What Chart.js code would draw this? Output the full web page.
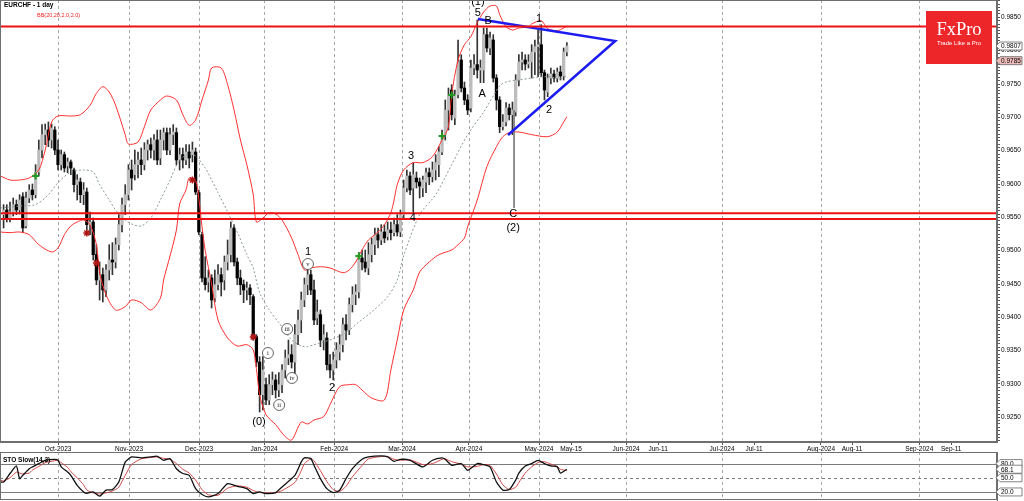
<!DOCTYPE html>
<html>
<head>
<meta charset="utf-8">
<script src="https://cdn.jsdelivr.net/npm/chart.js@4.4.1/dist/chart.umd.min.js"></script>
<style>
  html, body { margin: 0; padding: 0; background: #fff; }
  #wrap { position: relative; width: 1024px; height: 501px; overflow: hidden; }
  #main { position: absolute; left: 0; top: 0; }
  #sto { position: absolute; left: 0; top: 452px; }
</style>
</head>
<body>
<div id="wrap">
  <canvas id="main" width="1024" height="452"></canvas>
  <canvas id="sto" width="1024" height="49"></canvas>
</div>
<script>
// EURCHF daily bars, one per trading day (index 0 = early Sep 2023)
const openP = [0.9554,0.9561,0.9549,0.9558,0.9569,0.9561,0.9581,0.9537,0.9579,0.9591,
  0.9584,0.9618,0.9651,0.9674,0.9681,0.9666,0.9681,0.9651,0.9629,0.9644,
  0.9627,0.9633,0.9621,0.9599,0.9603,0.9584,0.9588,0.9539,0.9543,0.9494,
  0.9456,0.9464,0.9441,0.9471,0.9486,0.9483,0.9509,0.9539,0.9569,0.9584,
  0.9621,0.9614,0.9629,0.9636,0.9629,0.9651,0.9659,0.9651,0.9666,0.9639,
  0.9666,0.9677,0.9651,0.9674,0.9677,0.9636,0.9644,0.9636,0.9648,0.9644,
  0.9648,0.9587,0.9524,0.9459,0.9453,0.9459,0.9429,0.9449,0.9464,0.9456,
  0.9483,0.9494,0.9534,0.9483,0.9459,0.9449,0.9441,0.9444,0.9431,0.9371,
  0.9333,0.9284,0.9299,0.9276,0.9299,0.9306,0.9291,0.9299,0.9321,0.9339,
  0.9344,0.9333,0.9374,0.9396,0.9426,0.9449,0.9464,0.9441,0.9399,0.9404,
  0.9366,0.9369,0.9329,0.9321,0.9336,0.9348,0.9359,0.9389,0.9381,0.9419,
  0.9434,0.9438,0.9489,0.9483,0.9474,0.9494,0.9509,0.9524,0.9516,0.9528,
  0.9521,0.9531,0.9527,0.9539,0.9528,0.9554,0.9594,0.9612,0.9594,0.9609,
  0.9603,0.9594,0.9603,0.9617,0.9611,0.9621,0.9629,0.9648,0.9674,0.9711,
  0.9741,0.9699,0.9734,0.9786,0.9744,0.9726,0.9714,0.9774,0.9779,0.9771,
  0.9771,0.9824,0.9804,0.9816,0.9759,0.9726,0.9686,0.9693,0.9714,0.9704,
  0.9708,0.9756,0.9783,0.9786,0.9780,0.9783,0.9798,0.9806,0.9809,0.9767,
  0.9738,0.9759,0.9765,0.9759,0.9768,0.9762,0.9798];
const highP = [0.9569,0.9569,0.9573,0.9579,0.9576,0.9584,0.9587,0.9588,0.9599,0.9600,
  0.9629,0.9666,0.9689,0.9690,0.9693,0.9690,0.9686,0.9666,0.9651,0.9648,
  0.9639,0.9636,0.9624,0.9614,0.9609,0.9602,0.9594,0.9558,0.9549,0.9509,
  0.9483,0.9474,0.9479,0.9509,0.9512,0.9519,0.9554,0.9579,0.9599,0.9629,
  0.9636,0.9651,0.9648,0.9654,0.9662,0.9666,0.9669,0.9674,0.9681,0.9681,
  0.9684,0.9684,0.9684,0.9689,0.9684,0.9654,0.9654,0.9659,0.9659,0.9663,
  0.9654,0.9591,0.9528,0.9491,0.9471,0.9464,0.9471,0.9479,0.9474,0.9492,
  0.9516,0.9543,0.9539,0.9489,0.9471,0.9456,0.9453,0.9449,0.9434,0.9374,
  0.9341,0.9341,0.9309,0.9314,0.9318,0.9314,0.9317,0.9329,0.9351,0.9366,
  0.9359,0.9389,0.9411,0.9438,0.9459,0.9474,0.9471,0.9456,0.9426,0.9411,
  0.9389,0.9377,0.9344,0.9348,0.9362,0.9374,0.9399,0.9404,0.9429,0.9446,
  0.9449,0.9497,0.9501,0.9501,0.9512,0.9519,0.9534,0.9534,0.9539,0.9539,
  0.9543,0.9543,0.9549,0.9554,0.9561,0.9606,0.9621,0.9618,0.9632,0.9618,
  0.9609,0.9612,0.9624,0.9624,0.9633,0.9644,0.9656,0.9681,0.9726,0.9744,
  0.9749,0.9741,0.9816,0.9794,0.9753,0.9734,0.9786,0.9794,0.9846,0.9786,
  0.9834,0.9834,0.9828,0.9824,0.9764,0.9731,0.9704,0.9722,0.9720,0.9723,
  0.9764,0.9794,0.9798,0.9794,0.9794,0.9809,0.9816,0.9831,0.9839,0.9771,
  0.9765,0.9774,0.9771,0.9774,0.9777,0.9804,0.9812];
const lowP = [0.9534,0.9543,0.9543,0.9552,0.9554,0.9555,0.9527,0.9534,0.9572,0.9576,
  0.9579,0.9612,0.9639,0.9659,0.9656,0.9654,0.9644,0.9621,0.9621,0.9618,
  0.9617,0.9614,0.9588,0.9576,0.9572,0.9569,0.9531,0.9524,0.9486,0.9449,
  0.9426,0.9423,0.9431,0.9456,0.9464,0.9474,0.9501,0.9528,0.9554,0.9576,
  0.9591,0.9606,0.9609,0.9614,0.9621,0.9636,0.9639,0.9636,0.9629,0.9629,
  0.9651,0.9644,0.9644,0.9659,0.9629,0.9621,0.9624,0.9629,0.9624,0.9633,
  0.9584,0.9524,0.9453,0.9441,0.9438,0.9414,0.9423,0.9441,0.9432,0.9441,
  0.9471,0.9483,0.9477,0.9449,0.9434,0.9422,0.9426,0.9419,0.9366,0.9326,
  0.9258,0.9261,0.9269,0.9269,0.9284,0.9279,0.9281,0.9287,0.9309,0.9329,
  0.9324,0.9314,0.9359,0.9377,0.9416,0.9434,0.9434,0.9389,0.9389,0.9356,
  0.9351,0.9321,0.9309,0.9306,0.9324,0.9336,0.9348,0.9366,0.9374,0.9408,
  0.9419,0.9429,0.9471,0.9468,0.9464,0.9483,0.9494,0.9504,0.9509,0.9512,
  0.9516,0.9516,0.9522,0.9522,0.9521,0.9549,0.9588,0.9584,0.9557,0.9594,
  0.9579,0.9581,0.9587,0.9599,0.9603,0.9606,0.9611,0.9644,0.9666,0.9681,
  0.9696,0.9689,0.9729,0.9738,0.9719,0.9704,0.9708,0.9764,0.9759,0.9752,
  0.9752,0.9798,0.9794,0.9753,0.9711,0.9677,0.9681,0.9687,0.9696,0.9674,
  0.9702,0.9747,0.9771,0.9771,0.9774,0.9759,0.9764,0.9761,0.9761,0.9726,
  0.9731,0.9750,0.9753,0.9753,0.9756,0.9756,0.9792];
const closeP = [0.9561,0.9549,0.9558,0.9569,0.9561,0.9576,0.9534,0.9579,0.9591,0.9584,
  0.9618,0.9651,0.9674,0.9681,0.9666,0.9684,0.9651,0.9629,0.9644,0.9624,
  0.9633,0.9624,0.9599,0.9606,0.9584,0.9591,0.9539,0.9543,0.9494,0.9456,
  0.9464,0.9441,0.9471,0.9486,0.9483,0.9509,0.9539,0.9569,0.9584,0.9621,
  0.9609,0.9629,0.9636,0.9629,0.9651,0.9659,0.9651,0.9666,0.9636,0.9666,
  0.9677,0.9651,0.9674,0.9678,0.9636,0.9644,0.9636,0.9648,0.9639,0.9651,
  0.9588,0.9528,0.9459,0.9449,0.9459,0.9426,0.9449,0.9464,0.9453,0.9483,
  0.9494,0.9534,0.9483,0.9459,0.9449,0.9441,0.9444,0.9434,0.9371,0.9333,
  0.9284,0.9321,0.9276,0.9299,0.9306,0.9291,0.9299,0.9321,0.9339,0.9344,
  0.9333,0.9374,0.9396,0.9426,0.9449,0.9464,0.9441,0.9396,0.9408,0.9366,
  0.9374,0.9329,0.9321,0.9336,0.9351,0.9359,0.9389,0.9381,0.9419,0.9434,
  0.9438,0.9489,0.9483,0.9474,0.9494,0.9509,0.9524,0.9516,0.9528,0.9519,
  0.9531,0.9527,0.9539,0.9528,0.9554,0.9594,0.9612,0.9591,0.9614,0.9603,
  0.9597,0.9606,0.9617,0.9611,0.9621,0.9632,0.9648,0.9672,0.9711,0.9734,
  0.9704,0.9734,0.9783,0.9744,0.9726,0.9711,0.9774,0.9779,0.9771,0.9774,
  0.9824,0.9804,0.9819,0.9759,0.9726,0.9686,0.9693,0.9714,0.9704,0.9711,
  0.9756,0.9783,0.9786,0.9780,0.9783,0.9798,0.9806,0.9809,0.9767,0.9741,
  0.9759,0.9765,0.9759,0.9768,0.9762,0.9798,0.9807];

// Bollinger bands (20, 2.0): [bar index, price]
const bbUpper = [[-1,0.9612],[2,0.9606],[5,0.9606],[8,0.9609],[11,0.9621],[13,0.9651],[15,0.9693],[17,0.9702],[21,0.9702],[24,0.9704],[27,0.9718],[29,0.9736],[31,0.9746],[33,0.9738],[35,0.9718],[38,0.9674],[39,0.9660],[42,0.9663],[44,0.9686],[46,0.9711],[49,0.9726],[51,0.9732],[54,0.9726],[56,0.9704],[58,0.9688],[60,0.9696],[62,0.9726],[64,0.9756],[65,0.9774],[68,0.9774],[70,0.9749],[72,0.9711],[74,0.9666],[76,0.9629],[78,0.9584],[79,0.9543],[81,0.9549],[83,0.9557],[85,0.9555],[87,0.9546],[90,0.9519],[92,0.9494],[94,0.9471],[96,0.9474],[99,0.9476],[102,0.9474],[106,0.9467],[108,0.9471],[110,0.9483],[112,0.9501],[114,0.9516],[117,0.9528],[119,0.9539],[121,0.9557],[122,0.9576],[123,0.9599],[125,0.9621],[128,0.9632],[131,0.9632],[134,0.9641],[137,0.9666],[139,0.9686],[140,0.9734],[142,0.9786],[144,0.9809],[146,0.9821],[148,0.9842],[150,0.9858],[152,0.9867],[154,0.9867],[155,0.9854],[157,0.9836],[159,0.9831],[161,0.9834],[164,0.9836],[165,0.9840],[168,0.9845],[170,0.9833],[173,0.9830],[175,0.9834],[176,0.9837]];
const bbMiddle = [[-1,0.9564],[5,0.9567],[10,0.9569],[14,0.9584],[17,0.9602],[21,0.9618],[25,0.9621],[28,0.9618],[30,0.9599],[33,0.9576],[35,0.9561],[38,0.9546],[40,0.9540],[43,0.9537],[46,0.9549],[49,0.9576],[52,0.9606],[55,0.9636],[58,0.9645],[60,0.9642],[63,0.9624],[65,0.9606],[67,0.9587],[70,0.9558],[73,0.9528],[76,0.9494],[78,0.9474],[80,0.9437],[83,0.9411],[86,0.9392],[90,0.9366],[93,0.9357],[95,0.9356],[97,0.9359],[100,0.9363],[103,0.9368],[107,0.9377],[111,0.9393],[115,0.9408],[120,0.9431],[123,0.9456],[125,0.9492],[130,0.9554],[135,0.9584],[140,0.9629],[145,0.9674],[150,0.9708],[155,0.9747],[157,0.9753],[161,0.9756],[165,0.9759],[170,0.9761],[174,0.9758],[176,0.9762]];
const bbLower = [[-1,0.9528],[2,0.9527],[5,0.9528],[8,0.9524],[11,0.9509],[15,0.9498],[17,0.9504],[19,0.9524],[21,0.9537],[23,0.9543],[25,0.9546],[27,0.9539],[29,0.9509],[30,0.9467],[32,0.9434],[35,0.9411],[38,0.9416],[40,0.9426],[43,0.9422],[46,0.9411],[49,0.9429],[50,0.9456],[52,0.9492],[54,0.9531],[55,0.9570],[57,0.9591],[58,0.9609],[60,0.9605],[61,0.9578],[62,0.9536],[63,0.9500],[65,0.9450],[67,0.9396],[70,0.9369],[73,0.9357],[76,0.9359],[78,0.9351],[79,0.9323],[80,0.9284],[82,0.9254],[85,0.9239],[88,0.9221],[90,0.9216],[93,0.9243],[95,0.9240],[97,0.9246],[100,0.9251],[102,0.9269],[105,0.9296],[108,0.9299],[110,0.9299],[112,0.9291],[115,0.9279],[119,0.9276],[121,0.9321],[123,0.9366],[125,0.9411],[128,0.9441],[130,0.9468],[133,0.9483],[136,0.9494],[140,0.9501],[142,0.9509],[144,0.9519],[145,0.9536],[148,0.9576],[151,0.9626],[154,0.9656],[156,0.9671],[158,0.9677],[161,0.9678],[165,0.9674],[170,0.9671],[173,0.9678],[175,0.9693],[176,0.9701]];

// Stochastic slow (14,3): [bar index, value]
const stoMain = [[-1,41],[0,41],[2,59],[4,75],[5,48],[6,55],[8,69],[9,73],[11,80],[13,87],[16,89],[17,87],[18,73],[20,62],[21,55],[23,34],[25,20],[26,17],[28,20],[30,11],[32,24],[34,25],[36,41],[38,83],[40,94],[43,92],[46,94],[48,95.5],[50,87],[52,90.5],[54,69],[56,59],[58,55],[60,27],[62,14.5],[64,9.5],[67,16.6],[70,37.7],[73,32],[76,27],[78,16.6],[80,20],[82,16.6],[85,18.7],[87,30.7],[91,55],[93,83.5],[94,92],[96,90.5],[97,76.4],[99,48.3],[101,27],[103,18.7],[105,23.6],[107,48.3],[109,69.4],[112,89],[114,94],[118,96.2],[120,94],[122,84.9],[124,89],[127,87],[131,73],[134,87],[137,92],[138,89],[140,76.4],[143,80],[145,65.9],[148,80],[150,77.8],[152,73],[154,41],[156,24],[158,25],[160,45],[161,60],[163,75],[165,80],[167,87],[169,80],[171,75],[173,73],[174,60],[176,68.1]];
const stoSignal = [[-1,45],[0,43],[2,50],[4,62],[5,60],[6,58],[8,60],[9,66],[11,74],[13,82],[16,86],[17,87],[18,82],[20,72],[21,63],[23,50],[25,35],[26,24],[28,18],[30,16],[32,18],[34,22],[36,30],[38,55],[40,78],[43,90],[46,93],[48,94],[50,91],[52,89],[54,80],[56,68],[58,60],[60,45],[62,25],[64,14],[67,13],[70,28],[73,33],[76,30],[78,23],[80,19],[82,18],[85,18],[87,23],[91,40],[93,65],[94,80],[96,90],[97,86],[99,65],[101,42],[103,25],[105,21],[107,32],[109,52],[112,76],[114,90],[118,95],[120,95],[122,89],[124,87],[127,88],[131,78],[134,80],[137,89],[138,90],[140,84],[143,79],[145,73],[148,74],[150,78],[152,76],[154,58],[156,35],[158,25],[160,30],[161,40],[163,60],[165,73],[167,82],[169,84],[171,79],[173,74],[174,68],[176,65]];
const stoLevels = [80, 50, 20];
const stoLast = 68.1;

// drawn objects
const hLevels = [0.98363, 0.9556, 0.95475];
const triangle = [[148.2,0.98475],[191.1,0.98145],[157.6,0.96735]];
const cLine = [[159.5,0.9711],[159.5,0.9564]];
const buyMarks = [[10,0.9612],[111,0.9492],[137,0.9672],[140,0.97335]];
const sellMarks = [[26,0.95265],[29,0.94815],[59,0.9606],[78,0.93705]];
const waveLabels = [['(1)',148.2,0.9873],['5',148.2,0.98565],['B',151.4,0.98445],['1',167.3,0.98475],
  ['A',149.5,0.9735],['2',170.4,0.9711],['C',159.2,0.9555],['(2)',159.2,0.9534],
  ['3',127.3,0.9642],['4',127.9,0.9549],['1',95.1,0.9498],['2',102.6,0.9294],['(0)',79.8,0.9243]];
const romanLabels = [['i',82.6,0.93465],['ii',86.1,0.92685],['iii',88.6,0.93825],['iv',90.1,0.9309],['v',95.1,0.9480]];

// axes
const xTickIdx = [17,39.2,61.1,81.4,103.3,124.5,145.4,167.3,177.3,194.5,204.5,224.5,234.5,255.4,265.1,286.1,296.1];
const xTickLabels = ['Oct-2023','Nov-2023','Dec-2023','Jan-2024','Feb-2024','Mar-2024','Apr-2024','May-2024','May-15',
  'Jun-2024','Jun-11','Jul-2024','Jul-11','Aug-2024','Aug-11','Sep-2024','Sep-11'];
const yTickValues = [0.9250,0.9300,0.9350,0.9400,0.9450,0.9500,0.9550,0.9600,0.9650,0.9700,0.9750,0.9800,0.9850];
const lastPrice = 0.9807;
const bidPrice = 0.9785;

const xMin = -1.125, xMax = 310.4;
const FONT = '"Liberation Sans", Arial, sans-serif';

const pts = list => list.map(p => ({ x: p[0], y: p[1] }));

// vertical dashed lines at month starts
const monthLines = {
  id: 'monthLines',
  beforeDatasetsDraw(chart) {
    const { ctx, chartArea: a, scales: { x } } = chart;
    ctx.save();
    ctx.strokeStyle = '#a8a8a8';
    ctx.lineWidth = 1;
    ctx.setLineDash([3, 3]);
    xTickIdx.forEach((v, i) => {
      if (!xTickLabels[i].includes('20')) return;
      const px = Math.round(x.getPixelForValue(v)) + 0.5;
      ctx.beginPath();
      ctx.moveTo(px, a.top);
      ctx.lineTo(px, a.bottom);
      ctx.stroke();
    });
    ctx.restore();
  }
};

function frame(chart) {
  const { ctx, chartArea: a } = chart;
  ctx.save();
  ctx.strokeStyle = '#6e6e6e';
  ctx.lineWidth = 1;
  ctx.strokeRect(a.left + 0.5, a.top + 0.5, a.right - a.left - 1, a.bottom - a.top - 1);
  ctx.restore();
}

function tag(ctx, text, yPix, fill) {
  const x0 = 996, w = 26, h = 8;
  ctx.beginPath();
  ctx.moveTo(x0, yPix);
  ctx.lineTo(x0 + 4, yPix - h / 2);
  ctx.lineTo(x0 + w, yPix - h / 2);
  ctx.lineTo(x0 + w, yPix + h / 2);
  ctx.lineTo(x0 + 4, yPix + h / 2);
  ctx.closePath();
  ctx.fillStyle = fill;
  ctx.fill();
  ctx.strokeStyle = '#666';
  ctx.lineWidth = 0.8;
  ctx.stroke();
  ctx.fillStyle = '#000';
  ctx.font = '6.5px ' + FONT;
  ctx.textAlign = 'left';
  ctx.textBaseline = 'middle';
  ctx.fillText(text, x0 + 5, yPix + 0.5);
}

const annotations = {
  id: 'annotations',
  afterDatasetsDraw(chart) {
    const { ctx, scales: { x, y } } = chart;
    ctx.save();
    ctx.fillStyle = '#000';
    ctx.textAlign = 'center';
    ctx.textBaseline = 'middle';
    ctx.font = '11px ' + FONT;
    waveLabels.forEach(([t, i, p]) => ctx.fillText(t, x.getPixelForValue(i), y.getPixelForValue(p)));
    romanLabels.forEach(([t, i, p]) => {
      const cx = x.getPixelForValue(i), cy = y.getPixelForValue(p);
      ctx.beginPath();
      ctx.arc(cx, cy, 5.5, 0, Math.PI * 2);
      ctx.fillStyle = '#fff';
      ctx.fill();
      ctx.strokeStyle = '#555';
      ctx.lineWidth = 0.9;
      ctx.stroke();
      ctx.fillStyle = '#222';
      ctx.font = '6.5px "Liberation Serif", serif';
      ctx.fillText(t, cx, cy + 0.5);
    });
    ctx.restore();
  },
  afterDraw(chart) {
    const { ctx, scales: { y } } = chart;
    frame(chart);
    ctx.save();
    ctx.fillStyle = '#000';
    ctx.textAlign = 'left';
    ctx.textBaseline = 'middle';
    ctx.font = 'bold 6.5px ' + FONT;
    ctx.fillText('EURCHF - 1 day', 4, 5.5);
    ctx.fillStyle = '#ff2020';
    ctx.font = '5.5px ' + FONT;
    ctx.fillText('BB(20,20,2.0,2.0)', 37, 15.5);

    // logo
    ctx.fillStyle = '#ec2629';
    ctx.fillRect(926, 11, 66, 53);
    ctx.fillStyle = '#fff';
    ctx.textAlign = 'center';
    ctx.font = '18.5px "Liberation Serif", serif';
    ctx.fillText('FxPro', 959, 30);
    ctx.font = '6px ' + FONT;
    ctx.fillText('Trade Like a Pro', 959, 43);

    tag(ctx, lastPrice.toFixed(4), y.getPixelForValue(lastPrice), '#fff');
    tag(ctx, bidPrice.toFixed(4), y.getPixelForValue(bidPrice), '#efbcbc');
    ctx.restore();
  }
};

const lineBase = { type: 'line', pointRadius: 0, borderWidth: 1, fill: false };

new Chart(document.getElementById('main'), {
  type: 'bar',
  data: {
    datasets: [
      ...hLevels.map(l => ({ ...lineBase, data: [{ x: xMin - 1, y: l }, { x: xMax + 1, y: l }], borderColor: '#ee1111', borderWidth: 2, order: 0 })),
      { ...lineBase, data: pts(triangle), borderColor: '#1c1cf0', borderWidth: 2.5, order: 0 },
      { ...lineBase, data: pts(cLine), borderColor: '#808080', borderWidth: 1, order: 1 },
      { ...lineBase, data: pts(buyMarks), showLine: false, pointStyle: 'cross', pointRadius: 3.5, borderColor: '#229922', borderWidth: 2, order: 0 },
      { ...lineBase, data: pts(sellMarks), showLine: false, pointStyle: 'star', pointRadius: 3.5, borderColor: '#b01818', borderWidth: 1.5, order: 0 },
      { ...lineBase, data: pts(bbUpper), borderColor: '#ff3030', tension: 0.3, order: 1 },
      { ...lineBase, data: pts(bbLower), borderColor: '#ff3030', tension: 0.3, order: 1 },
      { ...lineBase, data: pts(bbMiddle), borderColor: '#8a9a96', borderDash: [2, 2], tension: 0.3, order: 1 },
      {
        data: openP.map((o, i) => ({ x: i, y: [o, closeP[i]] })),
        backgroundColor: openP.map((o, i) => closeP[i] >= o ? '#bcbcbc' : '#000'),
        barThickness: 2.6, minBarLength: 1, order: 2
      },
      {
        data: highP.map((h, i) => ({ x: i, y: [lowP[i], h] })),
        backgroundColor: '#333', barThickness: 1, order: 3
      }
    ]
  },
  options: {
    responsive: false,
    animation: false,
    layout: { padding: 0, autoPadding: false },
    plugins: { legend: { display: false }, tooltip: { enabled: false } },
    datasets: { bar: { grouped: false } },
    scales: {
      x: {
        type: 'linear', min: xMin, max: xMax, offset: false,
        grid: { drawOnChartArea: false, drawTicks: true, tickLength: 3, color: '#555', offset: false },
        border: { display: true, color: '#6e6e6e' },
        ticks: {
          autoSkip: false, maxRotation: 0, minRotation: 0, padding: 0,
          font: { size: 6.5, family: FONT }, color: '#000',
          callback: (v, i) => xTickLabels[i]
        },
        afterBuildTicks: s => { s.ticks = xTickIdx.map(v => ({ value: v })); },
        afterFit: s => { s.height = 10; s.paddingLeft = 0; s.paddingRight = 0; }
      },
      y: {
        type: 'linear', position: 'right', min: 0.9213, max: 0.9876,
        grid: { drawOnChartArea: false, drawTicks: true, tickLength: 3, color: '#555' },
        border: { display: true, color: '#6e6e6e' },
        ticks: {
          autoSkip: false, padding: 1,
          font: { size: 6.5, family: FONT }, color: '#000',
          callback: v => yTickValues.some(t => Math.abs(t - v) < 1e-6) ? v.toFixed(4) : ''
        },
        afterBuildTicks: s => {
          const ticks = [];
          for (let k = 0; k <= 132; k++) ticks.push({ value: +(0.9215 + k * 0.0005).toFixed(4) });
          s.ticks = ticks;
        },
        afterFit: s => { s.width = 27; s.paddingTop = 0; s.paddingBottom = 0; }
      }
    }
  },
  plugins: [monthLines, annotations]
});

const stoDecor = {
  id: 'stoDecor',
  beforeDatasetsDraw(chart) {
    const { ctx, chartArea: a, scales: { y } } = chart;
    ctx.save();
    ctx.strokeStyle = '#7a7a7a';
    ctx.lineWidth = 1;
    stoLevels.forEach(l => {
      const py = Math.round(y.getPixelForValue(l)) + 0.5;
      ctx.setLineDash(l === 50 ? [3, 3] : []);
      ctx.beginPath();
      ctx.moveTo(a.left, py);
      ctx.lineTo(a.right, py);
      ctx.stroke();
    });
    ctx.restore();
  },
  afterDraw(chart) {
    const { ctx, scales: { y } } = chart;
    frame(chart);
    ctx.save();
    ctx.fillStyle = '#000';
    ctx.textAlign = 'left';
    ctx.textBaseline = 'middle';
    ctx.font = 'bold 6.5px ' + FONT;
    ctx.fillText('STO Slow(14,3)', 3, 8);
    [80, stoLast, 50, 20].forEach(v => tag(ctx, v.toFixed(1), y.getPixelForValue(v), '#fff'));
    ctx.restore();
  }
};

new Chart(document.getElementById('sto'), {
  type: 'line',
  data: {
    datasets: [
      { data: pts(stoMain), borderColor: '#111', borderWidth: 1.3, pointRadius: 0, tension: 0.2 },
      { data: pts(stoSignal), borderColor: '#d04848', borderWidth: 1, pointRadius: 0, tension: 0.2 }
    ]
  },
  options: {
    responsive: false,
    animation: false,
    layout: { padding: { bottom: 1 }, autoPadding: false },
    plugins: { legend: { display: false }, tooltip: { enabled: false } },
    scales: {
      x: { type: 'linear', min: xMin, max: xMax, display: false },
      y: {
        position: 'right', min: 3, max: 104.5,
        grid: { display: false },
        border: { display: true, color: '#6e6e6e' },
        ticks: { display: false },
        afterFit: s => { s.width = 27; s.paddingTop = 0; s.paddingBottom = 0; }
      }
    }
  },
  plugins: [monthLines, stoDecor]
});
</script>
</body>
</html>
